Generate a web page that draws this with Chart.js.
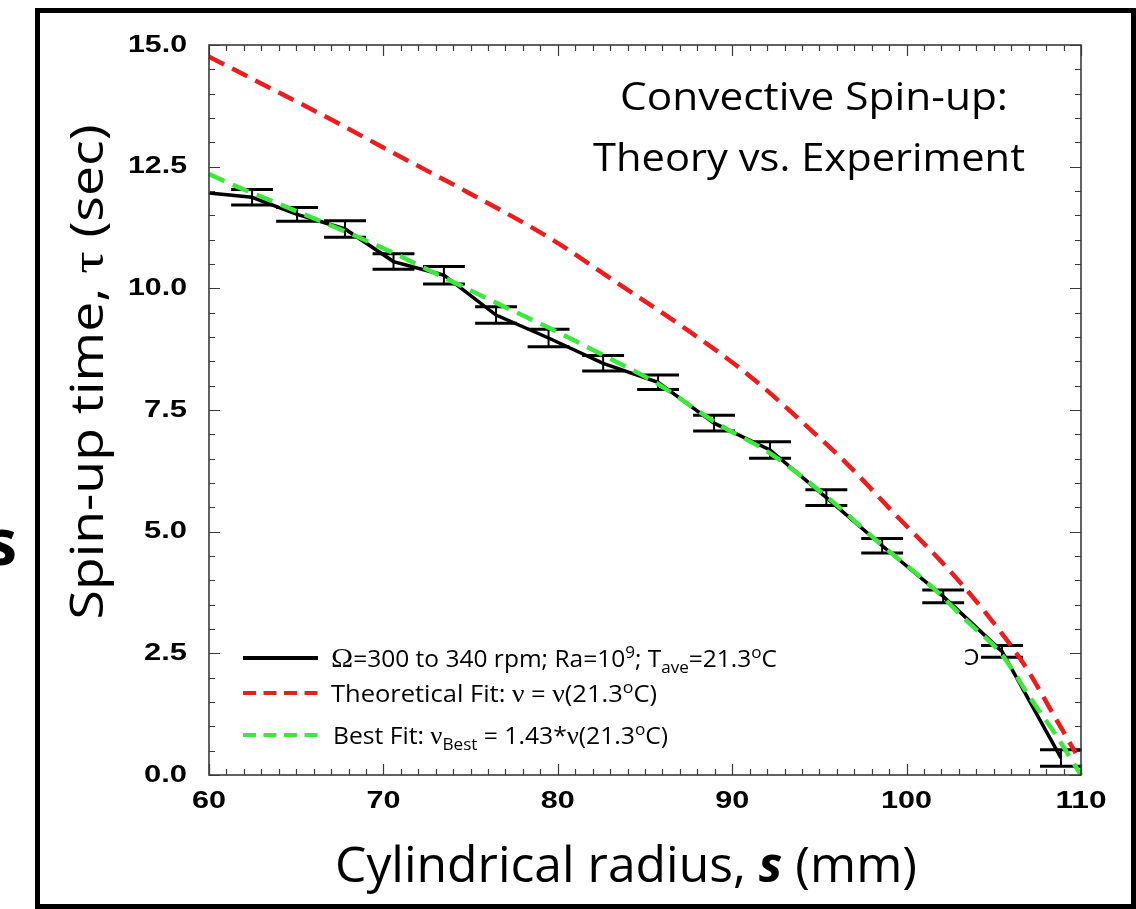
<!DOCTYPE html>
<html><head><meta charset="utf-8">
<script src="https://cdn.jsdelivr.net/npm/chart.js@4.4.1/dist/chart.umd.min.js"></script>
<style>html,body{margin:0;padding:0;background:#fff;}canvas{display:block}</style>
</head><body>
<canvas id="c" width="1136" height="909"></canvas>
<script>
// ---- data ----
const radiusMeasured = [60, 62.47, 65.05, 67.8, 70.58, 73.47, 76.46, 79.47, 82.6, 85.75, 88.96, 92.17, 95.4, 98.6, 102.1, 105.47, 108.85];
const tauMeasured    = [11.96, 11.87, 11.52, 11.22, 10.55, 10.27, 9.45, 8.98, 8.46, 8.07, 7.23, 6.68, 5.70, 4.71, 3.67, 2.54, 0.35];
const tauError       = [null, 0.16, 0.14, 0.17, 0.16, 0.18, 0.17, 0.18, 0.16, 0.15, 0.16, 0.17, 0.16, 0.15, 0.13, 0.12, 0.17];

const radiusTheory = [60, 63.7, 66.2, 70.95, 74.8, 79.55, 83.37, 87.2, 91.0, 94.85, 96.57, 99.6, 101.9, 104.4, 106.7, 108.6, 109.7];
const tauTheory    = [14.76, 14.08, 13.62, 12.71, 11.98, 11.03, 10.12, 9.2, 8.2, 6.98, 6.4, 5.26, 4.42, 3.39, 2.29, 1.13, 0.45];

const radiusBest = [60, 61.4, 63.7, 65.2, 68.45, 70.56, 72.86, 76.88, 79.55, 82.42, 85.67, 89.11, 92.17, 95.42, 98.5, 101.5, 103.5, 105.4, 107.1, 108.6, 110];
const tauBest    = [12.35, 12.12, 11.78, 11.56, 11.07, 10.73, 10.33, 9.63, 9.18, 8.66, 8.05, 7.23, 6.61, 5.72, 4.75, 3.85, 3.15, 2.5, 1.58, 0.8, 0];

const xTickValues = [60, 70, 80, 90, 100, 110];
const xTickLabels = ['60', '70', '80', '90', '100', '110'];
const yTickValues = [0, 2.5, 5, 7.5, 10, 12.5, 15];
const yTickLabels = ['0.0', '2.5', '5.0', '7.5', '10.0', '12.5', '15.0'];

const titleLines = ['Convective Spin-up:', 'Theory vs. Experiment'];
const yTitle = ['Spin-up time, ', '\u03C4', ' (sec)'];
const xTitle = ['Cylindrical radius, ', 's', ' (mm)'];

const pts = (xs, ys) => xs.map((x, i) => ({x: x, y: ys[i]}));

const RED = '#ee1c1c', GREEN = '#3be83b';
const SANS = '"Open Sans"';

function drawRich(ctx, runs, x, y, o) {
  o = o || {};
  let total = 0;
  runs.forEach(r => { ctx.font = r.font; r.w = ctx.measureText(r.t).width; total += r.w; });
  const sx = o.width ? o.width / total : 1;
  ctx.save();
  ctx.translate(x, y);
  if (o.rot) ctx.rotate(o.rot);
  ctx.scale(sx, 1);
  let cx = 0;
  if (o.align === 'center') cx = -total / 2;
  else if (o.align === 'right') cx = -total;
  ctx.textBaseline = o.baseline || 'alphabetic';
  ctx.textAlign = 'left';
  ctx.fillStyle = o.color || '#000';
  runs.forEach(r => { ctx.font = r.font; ctx.fillText(r.t, cx, r.dy || 0); cx += r.w; });
  ctx.restore();
}

const decor = {
  id: 'decor',
  beforeDraw(chart) {
    const ctx = chart.ctx;
    ctx.save();
    ctx.fillStyle = '#fff';
    ctx.fillRect(0, 0, chart.width, chart.height);
    ctx.strokeStyle = '#000';
    ctx.lineWidth = 5;
    ctx.strokeRect(37.5, 10.5, 1096, 896);
    ctx.restore();
  },
  afterDatasetDraw(chart, args) {
    if (args.index !== 2) return;
    const ctx = chart.ctx, xs = chart.scales.x, ys = chart.scales.y;
    ctx.save();
    ctx.strokeStyle = '#000';
    ctx.lineCap = 'butt';
    radiusMeasured.forEach((r, i) => {
      const e = tauError[i];
      if (e == null) return;
      const px = xs.getPixelForValue(r);
      const hw = (xs.getPixelForValue(r + 1.2) - px);
      const top = ys.getPixelForValue(tauMeasured[i] + e);
      const bot = ys.getPixelForValue(tauMeasured[i] - e);
      ctx.lineWidth = 2;
      ctx.beginPath(); ctx.moveTo(px, top); ctx.lineTo(px, bot); ctx.stroke();
      ctx.lineWidth = 3;
      ctx.beginPath();
      ctx.moveTo(px - hw, top); ctx.lineTo(px + hw, top);
      ctx.moveTo(px - hw, bot); ctx.lineTo(px + hw, bot);
      ctx.stroke();
    });
    ctx.restore();
  },
  afterDraw(chart) {
    const ctx = chart.ctx, a = chart.chartArea, xs = chart.scales.x, ys = chart.scales.y;
    ctx.save();
    // plot frame
    ctx.strokeStyle = '#3a3a3a';
    ctx.lineWidth = 1.6;
    ctx.strokeRect(a.left, a.top, a.right - a.left, a.bottom - a.top);
    // ticks
    ctx.lineWidth = 1.2;
    ctx.beginPath();
    for (let v = 60; v <= 110; v += 1) {
      const px = Math.round(xs.getPixelForValue(v)) + 0.5;
      const len = (v % 10 === 0) ? 11 : 6;
      ctx.moveTo(px, a.bottom); ctx.lineTo(px, a.bottom - len);
      ctx.moveTo(px, a.top); ctx.lineTo(px, a.top + len);
    }
    for (let k = 0; k <= 30; k++) {
      const v = k * 0.5;
      const py = Math.round(ys.getPixelForValue(v)) + 0.5;
      const len = (k % 5 === 0) ? 11 : 6;
      ctx.moveTo(a.left, py); ctx.lineTo(a.left + len, py);
      ctx.moveTo(a.right, py); ctx.lineTo(a.right - len, py);
    }
    ctx.stroke();
    ctx.restore();
    // tick labels
    const tf = 'bold 24px "Liberation Sans"';
    xTickValues.forEach((v, i) => {
      drawRich(ctx, [{t: xTickLabels[i], font: tf}], xs.getPixelForValue(v), 801, {align: 'center', baseline: 'middle', width: xTickLabels[i].length * 17});
    });
    yTickValues.forEach((v, i) => {
      const s = yTickLabels[i];
      drawRich(ctx, [{t: s, font: tf}], 187, ys.getPixelForValue(v), {align: 'right', baseline: 'middle', width: s.length === 4 ? 59 : 43});
    });
    // axis titles
    drawRich(ctx, [
      {t: yTitle[0], font: '45px ' + SANS},
      {t: yTitle[1], font: '47px "Liberation Serif"'},
      {t: yTitle[2], font: '45px ' + SANS}
    ], 103, 372, {align: 'center', rot: -Math.PI / 2, width: 495});
    drawRich(ctx, [
      {t: xTitle[0], font: '49px ' + SANS},
      {t: xTitle[1], font: 'italic bold 49px ' + SANS},
      {t: xTitle[2], font: '49px ' + SANS}
    ], 626, 882, {align: 'center', width: 582});
    // chart title
    drawRich(ctx, [{t: titleLines[0], font: '39px ' + SANS}], 814, 110, {align: 'center', width: 388});
    drawRich(ctx, [{t: titleLines[1], font: '39px ' + SANS}], 809, 171, {align: 'center', width: 432});
    // legend
    ctx.save();
    ctx.lineWidth = 4;
    ctx.strokeStyle = '#000';
    ctx.beginPath(); ctx.moveTo(243, 658); ctx.lineTo(318, 658); ctx.stroke();
    ctx.setLineDash([13, 7.5]);
    ctx.strokeStyle = RED;
    ctx.beginPath(); ctx.moveTo(243, 693); ctx.lineTo(318, 693); ctx.stroke();
    ctx.strokeStyle = GREEN;
    ctx.beginPath(); ctx.moveTo(243, 735); ctx.lineTo(318, 735); ctx.stroke();
    ctx.restore();
    const lf = '23px ' + SANS, sf = '16px ' + SANS, gf = '25px "Liberation Serif"';
    drawRich(ctx, [
      {t: '\u03A9', font: '28px "Liberation Serif"'},
      {t: '=300 to 340 rpm; Ra=10', font: lf},
      {t: '9', font: sf, dy: -9},
      {t: '; T', font: lf},
      {t: 'ave', font: sf, dy: 6},
      {t: '=21.3', font: lf},
      {t: 'o', font: sf, dy: -9},
      {t: 'C', font: lf}
    ], 331, 667, {width: 446});
    drawRich(ctx, [
      {t: 'Theoretical Fit: ', font: lf},
      {t: '\u03BD', font: gf},
      {t: ' = ', font: lf},
      {t: '\u03BD', font: gf},
      {t: '(21.3', font: lf},
      {t: 'o', font: sf, dy: -9},
      {t: 'C)', font: lf}
    ], 331, 702, {width: 326});
    drawRich(ctx, [
      {t: 'Best Fit: ', font: lf},
      {t: '\u03BD', font: gf},
      {t: 'Best', font: sf, dy: 6},
      {t: ' = 1.43*', font: lf},
      {t: '\u03BD', font: gf},
      {t: '(21.3', font: lf},
      {t: 'o', font: sf, dy: -9},
      {t: 'C)', font: lf}
    ], 333, 744, {width: 335});
    // stray mark and clipped letter
    drawRich(ctx, [{t: '\u0186', font: '22px "DejaVu Sans"'}], 964, 665, {});
    drawRich(ctx, [{t: 's', font: 'bold 64px ' + SANS}], 17, 565, {align: 'right'});
  }
};

new Chart(document.getElementById('c'), {
  type: 'line',
  data: {
    datasets: [
      {label: 'Best Fit', data: pts(radiusBest, tauBest), borderColor: GREEN, borderWidth: 4.5,
       borderDash: [17, 9], cubicInterpolationMode: 'monotone', pointRadius: 0, clip: false},
      {label: 'Theoretical Fit', data: pts(radiusTheory, tauTheory), borderColor: RED, borderWidth: 4.5,
       borderDash: [17, 9], cubicInterpolationMode: 'monotone', pointRadius: 0, clip: false},
      {label: 'Measured', data: pts(radiusMeasured, tauMeasured), borderColor: '#000', borderWidth: 3.5,
       tension: 0, pointRadius: 0, clip: false}
    ]
  },
  options: {
    responsive: false,
    animation: false,
    devicePixelRatio: 1,
    layout: {padding: {left: 209, top: 45, right: 55, bottom: 134}},
    plugins: {legend: {display: false}, tooltip: {enabled: false}},
    scales: {
      x: {type: 'linear', min: 60, max: 110, display: false},
      y: {type: 'linear', min: 0, max: 15, display: false}
    }
  },
  plugins: [decor]
});
</script>
</body></html>
